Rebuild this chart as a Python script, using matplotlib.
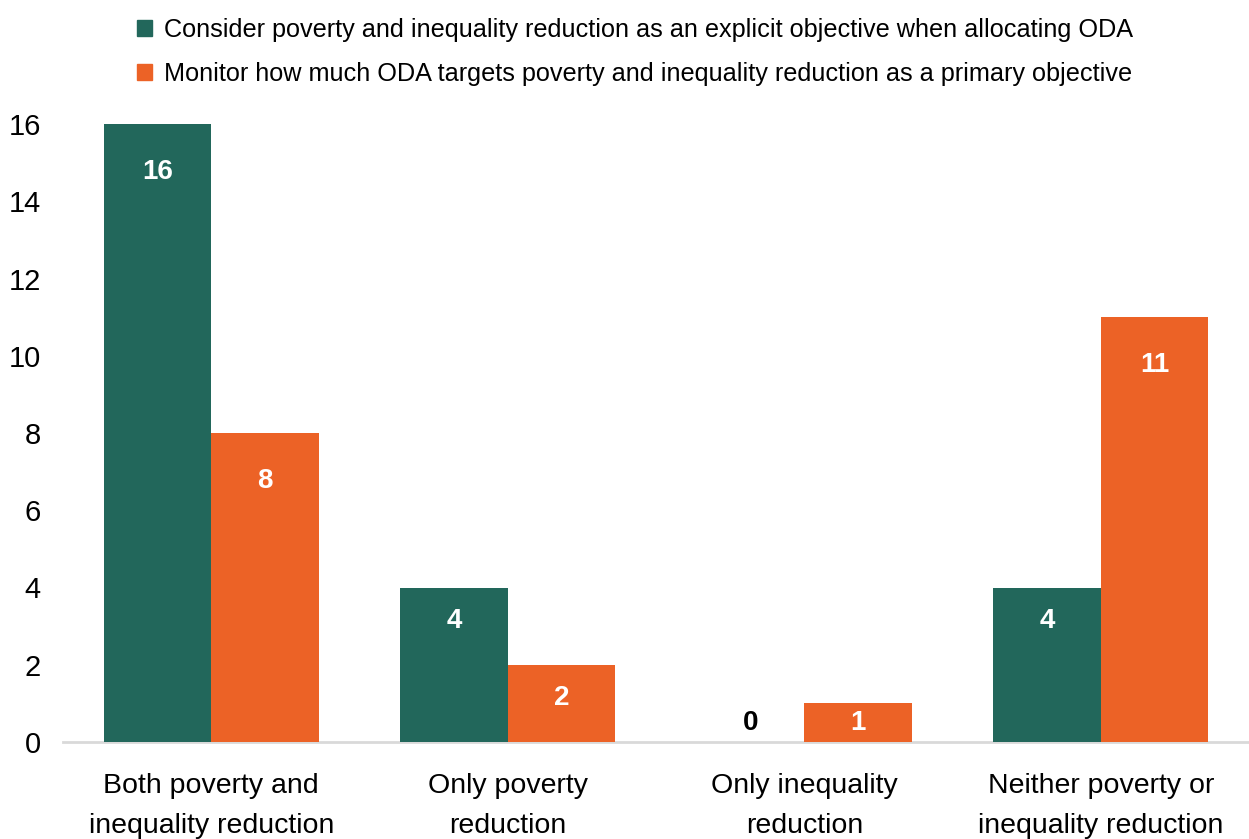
import matplotlib
matplotlib.use("Agg")
import matplotlib.pyplot as plt
import numpy as np
from matplotlib.patches import Patch

categories = ["Both poverty and\ninequality reduction", "Only poverty\nreduction",
              "Only inequality\nreduction", "Neither poverty or\ninequality reduction"]
series_names = ["Consider poverty and inequality reduction as an explicit objective when allocating ODA",
                "Monitor how much ODA targets poverty and inequality reduction as a primary objective"]
consider = [16, 4, 0, 4]
monitor = [8, 2, 1, 11]
yticks = [0, 2, 4, 6, 8, 10, 12, 14, 16]

GREEN = "#22675B"
ORANGE = "#EC6226"
FONT = ["Liberation Sans Narrow", "Liberation Sans", "DejaVu Sans"]
plt.rcParams["font.family"] = FONT

fig = plt.figure(figsize=(12.49, 8.39), dpi=100)
ax = fig.add_axes([63/1249, 1-742/839, 1-63/1249, (742-124)/839])

x = np.arange(len(categories))
w = 0.362
b1 = ax.bar(x - w/2, consider, w, color=GREEN)
b2 = ax.bar(x + w/2, monitor, w, color=ORANGE)

ax.set_xlim(-0.5, 3.5)
ax.set_ylim(0, 16)
ax.set_yticks(yticks)
ax.set_yticklabels([str(t) for t in yticks], fontsize=21)
ax.set_xticks(x)
ax.set_xticklabels(categories, fontsize=20.5, linespacing=1.7)
ax.tick_params(axis="both", length=0)
ax.tick_params(axis="y", pad=16)
ax.tick_params(axis="x", pad=22)
for s in ["top", "right", "left"]:
    ax.spines[s].set_visible(False)
ax.spines["bottom"].set_color("#D9D9D9")
ax.spines["bottom"].set_linewidth(2)
ax.spines["bottom"].set_zorder(0)

px_per_unit = (742-124)/16
for bars, vals in ((b1, consider), (b2, monitor)):
    for r, v in zip(bars, vals):
        cx = r.get_x() + r.get_width()/2
        if v == 0:
            ax.text(cx, 0.5, str(v), ha="center", va="center", fontsize=20,
                    fontweight="bold", color="black")
            continue
        if v >= 8:
            y = v - 48/px_per_unit
        elif v >= 2:
            y = v - 33/px_per_unit
        else:
            y = v/2
        ax.text(cx, y, str(v), ha="center", va="center", fontsize=20,
                fontweight="bold", color="white")

handles = [Patch(color=GREEN), Patch(color=ORANGE)]
leg = fig.legend(handles, series_names, loc="upper left", bbox_to_anchor=(119/1249, 1-0/839),
                 frameon=False, fontsize=18.2, handlelength=0.6, handleheight=0.6,
                 handletextpad=0.5, labelspacing=0.8, borderaxespad=0.3)

fig.savefig("out.png", dpi=100)
